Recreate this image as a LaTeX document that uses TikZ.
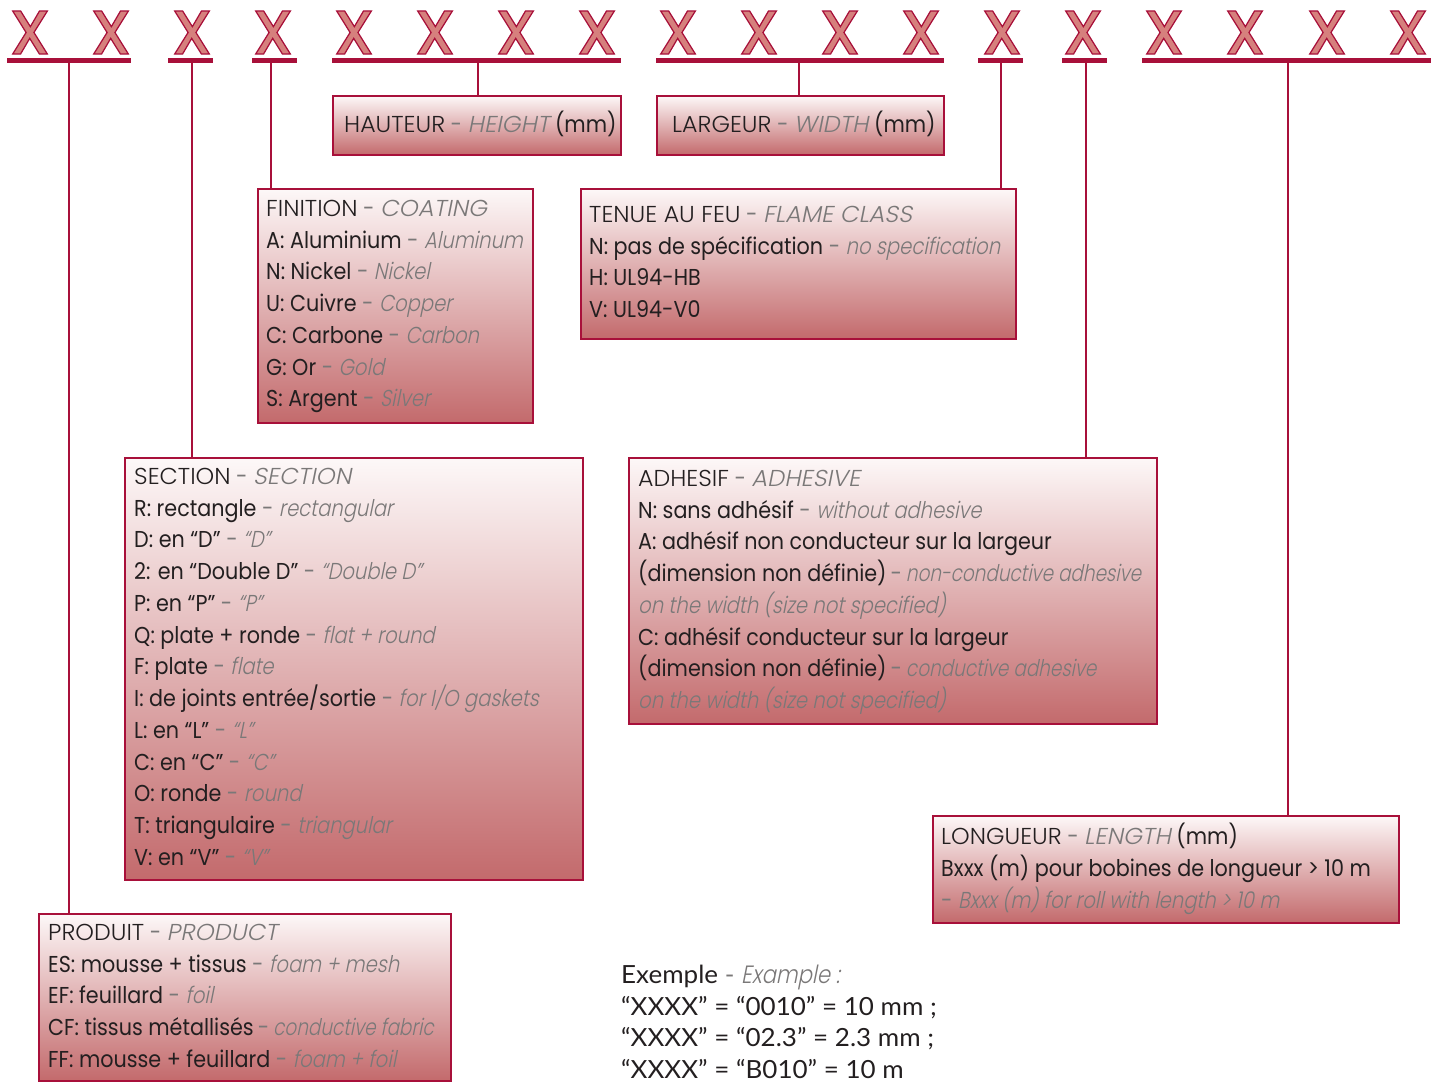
\documentclass[tikz,border=0pt]{standalone}
\usepackage{fontspec}
\setmainfont{Poppins}[FakeStretch=0.9]
\newfontfamily\ttlfont{Poppins}[UprightFont=* Light, FakeStretch=1.03]
\newfontfamily\trfont{Poppins}[UprightFont=* Light, FakeSlant=0.2, FakeStretch=0.85]
\newfontfamily\trnfont{Poppins}[UprightFont=* Light, FakeSlant=0.2, FakeStretch=0.8]
\newfontfamily\trcfont{Poppins}[UprightFont=* Light, FakeSlant=0.2, FakeStretch=1.05]
\newfontfamily\xfont{Poppins}[UprightFont=* Medium, FakeBold=2]
\newfontfamily\exfont{Lato}[FakeStretch=1.04]
\definecolor{crim}{HTML}{A8103A}
\definecolor{xfill}{HTML}{D6807D}
\definecolor{boxtop}{HTML}{FDF8F8}
\definecolor{boxbot}{HTML}{C36A6C}
\definecolor{trg}{HTML}{7A7878}
\definecolor{txt}{HTML}{231F20}
\newcommand\en[1]{ \textcolor{trg}{-~\trfont #1}}
\newcommand\ent[1]{\hspace{4pt}\textcolor{trg}{-\hspace{4pt}\trnfont #1}}
\newcommand\enc[1]{ \textcolor{trg}{-~\trcfont #1}}
\newcommand\gr[1]{\textcolor{trg}{\trfont #1}}
\newcommand\ttl[1]{{\ttlfont #1}}
\begin{document}
\begin{tikzpicture}[x=1pt,y=-1pt,
 bx/.style={draw=crim, line width=1.5pt, top color=boxtop, bottom color=boxbot, rectangle, inner sep=0pt, anchor=north west},
 tx/.style={anchor=north west, align=left, inner sep=0pt, font=\fontsize{23}{31.75}\selectfont, text=txt},
 xl/.style={font=\xfont\fontsize{62}{62}\selectfont, text=xfill, inner sep=0pt, anchor=base},
 bar/.style={draw=crim, line width=5pt},
 ln/.style={draw=crim, line width=2.5pt}]
\path[use as bounding box] (0,0) rectangle (1443,1082);
% X letters
\foreach \i/\cx in {1/30,2/111,3/192,4/273,5/354,6/435,7/516,8/597,9/678,10/759,11/840,12/921,13/1002,14/1083,15/1164,16/1245,17/1327,18/1408}
  \node[xl] (x\i) at (\cx,54) {\special{pdf:literal direct 0.659 0.063 0.227 RG}X};
% bars
\draw[bar] (7,60.5) -- (131,60.5);
\draw[bar] (168,60.5) -- (213,60.5);
\draw[bar] (252,60.5) -- (297,60.5);
\draw[bar] (332,60.5) -- (621,60.5);
\draw[bar] (656,60.5) -- (944,60.5);
\draw[bar] (978,60.5) -- (1023,60.5);
\draw[bar] (1062,60.5) -- (1107,60.5);
\draw[bar] (1142,60.5) -- (1431,60.5);
\coordinate (b1) at (69,60.5);
\coordinate (b2) at (192,60.5);
\coordinate (b3) at (271,60.5);
\coordinate (b4) at (478,60.5);
\coordinate (b5) at (799,60.5);
\coordinate (b6) at (1001,60.5);
\coordinate (b7) at (1086,60.5);
\coordinate (b8) at (1288,60.5);
% boxes
\node[bx, minimum width=288pt, minimum height=59pt] (hb) at (332,95) {};
\node[bx, minimum width=287pt, minimum height=59pt] (lb) at (656,95) {};
\node[bx, minimum width=275pt, minimum height=234pt] (fin) at (257,188) {};
\node[bx, minimum width=435pt, minimum height=150pt] (ten) at (580,188) {};
\node[bx, minimum width=458pt, minimum height=422pt] (sec) at (124,457) {};
\node[bx, minimum width=528pt, minimum height=266pt] (adh) at (628,457) {};
\node[bx, minimum width=466pt, minimum height=107pt] (lon) at (932,815) {};
\node[bx, minimum width=412pt, minimum height=167pt] (prod) at (38,913) {};
% connectors
\draw[ln] (b1) -- (b1 |- prod.north);
\draw[ln] (b2) -- (b2 |- sec.north);
\draw[ln] (b3) -- (b3 |- fin.north);
\draw[ln] (b4) -- (b4 |- hb.north);
\draw[ln] (b5) -- (b5 |- lb.north);
\draw[ln] (b6) -- (b6 |- ten.north);
\draw[ln] (b7) -- (b7 |- adh.north);
\draw[ln] (b8) -- (b8 |- lon.north);
% texts
\node[tx, anchor=west] (thb) at (344,124) {\ttl{HAUTEUR}\enc{HEIGHT} (mm)};
\node[tx, anchor=west] (tlb) at (672,124) {\ttl{LARGEUR}\enc{WIDTH} (mm)};
\node[tx] (tfin) at (266,200) {\ttl{FINITION}\enc{COATING}\\
A: Aluminium\en{Aluminum}\\
N: Nickel\en{Nickel}\\
U: Cuivre\en{Copper}\\
C: Carbone\en{Carbon}\\
G: Or\en{Gold}\\
S: Argent\en{Silver}};
\node[tx] (tten) at (589,206) {\ttl{TENUE AU FEU}\enc{FLAME CLASS}\\
N: pas de spécification\en{no specification}\\
H: UL94-HB\\
V: UL94-V0};
\node[tx] (tsec) at (134,468) {\ttl{SECTION}\enc{SECTION}\\
R: rectangle\en{rectangular}\\
D: en “D”\en{“D”}\\
2: en “Double D”\en{“Double D”}\\
P: en “P”\en{“P”}\\
Q: plate + ronde\en{flat + round}\\
F: plate\en{flate}\\
I: de joints entrée/sortie\en{for I/O gaskets}\\
L: en “L”\en{“L”}\\
C: en “C”\en{“C”}\\
O: ronde\en{round}\\
T: triangulaire\en{triangular}\\
V: en “V”\en{“V”}};
\node[tx] (tadh) at (638,470) {\ttl{ADHESIF}\enc{ADHESIVE}\\
N: sans adhésif\en{without adhesive}\\
A: adhésif non conducteur sur la largeur\\
(dimension non définie)\ent{non-conductive adhesive}\\
\gr{on the width (size not specified)}\\
C: adhésif conducteur sur la largeur\\
(dimension non définie)\ent{conductive adhesive}\\
\gr{on the width (size not specified)}};
\node[tx] (tlon) at (941,823) {\ttl{LONGUEUR}\enc{LENGTH} (mm)\\
Bxxx (m) pour bobines de longueur > 10 m\\
\textcolor{trg}{-~\trfont Bxxx (m) for roll with length > 10 m}};
\node[tx] (tprod) at (48,924) {\ttl{PRODUIT}\enc{PRODUCT}\\
ES: mousse + tissus\en{foam + mesh}\\
EF: feuillard\en{foil}\\
CF: tissus métallisés\ent{conductive fabric}\\
FF: mousse + feuillard\en{foam + foil}};
\node[tx, font=\exfont\fontsize{25}{31.5}\selectfont] (tex) at (621,965) {Exemple\en{Example :}\\
“XXXX” = “0010” = 10 mm ;\\
“XXXX” = “02.3” = 2.3 mm ;\\
“XXXX” = “B010” = 10 m};
\end{tikzpicture}
\end{document}
